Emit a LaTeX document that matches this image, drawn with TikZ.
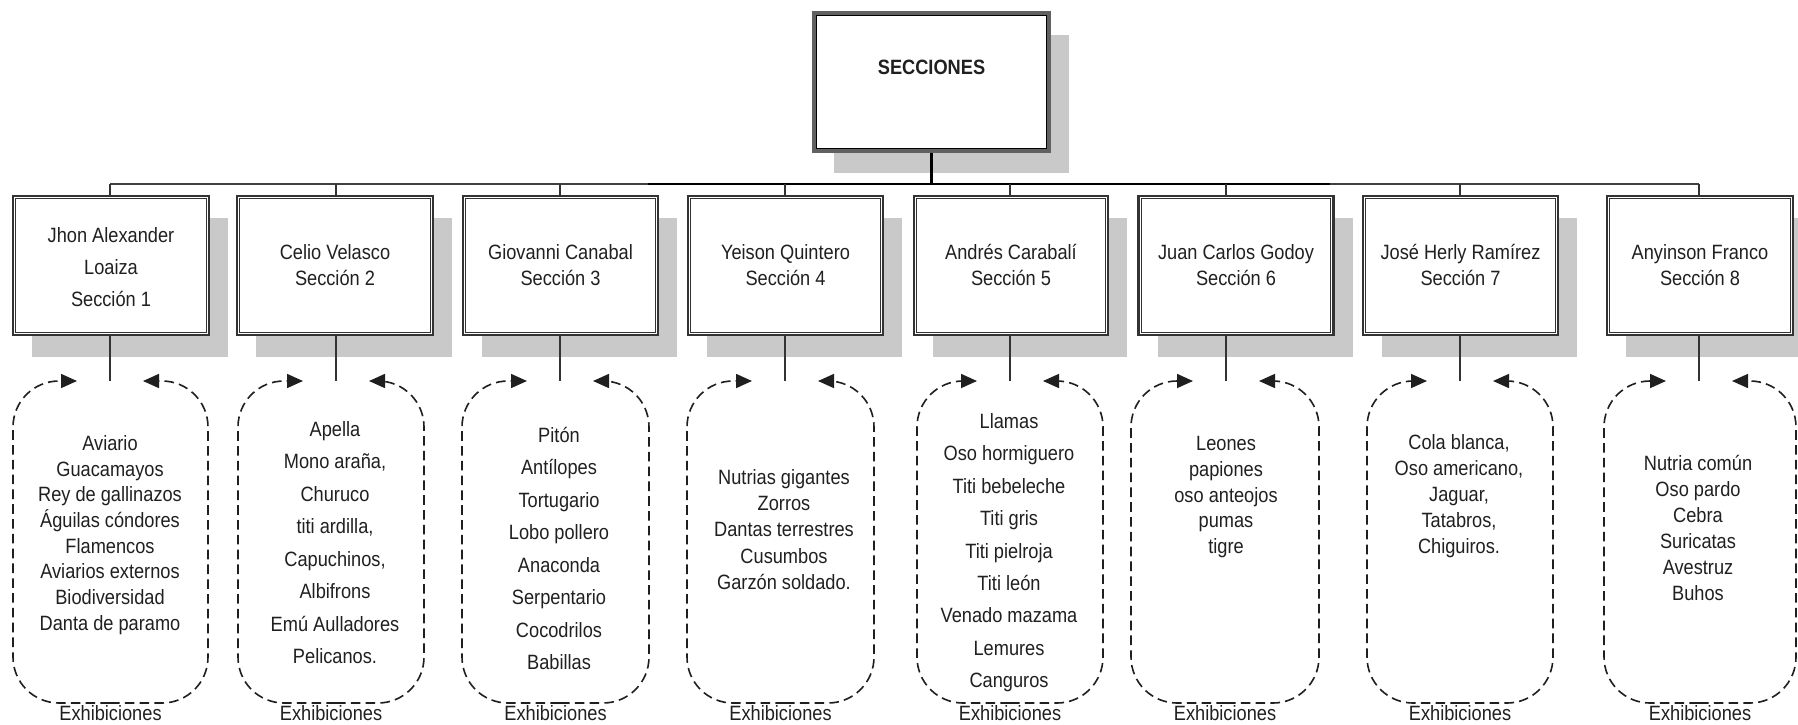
\documentclass[tikz,border=0pt]{standalone}
\usepackage{fontspec}
\setmainfont{Liberation Sans}[FakeStretch=0.88]
\usetikzlibrary{shadows,arrows.meta}
\definecolor{shgray}{HTML}{C9C9C9}
\definecolor{ink}{HTML}{202020}
\definecolor{edge}{HTML}{333333}
\begin{document}
\begin{tikzpicture}[x=0.5pt,y=-0.5pt,
  every node/.style={font=\fontsize{10.35pt}{12pt}\selectfont, text=ink},
  txt/.style={inner sep=0pt, text height=7.4pt, text depth=0pt},
  secbox/.style={draw=edge, line width=1.1pt, minimum height=69.5pt, fill=white, inner sep=0pt,
    drop shadow={shadow xshift=9.5pt, shadow yshift=-11pt, fill=shgray, opacity=1}},
  topbox/.style={draw=black!62, line width=2pt, minimum width=117.5pt, minimum height=69pt, fill=white, inner sep=0pt,
    drop shadow={shadow xshift=10pt, shadow yshift=-11pt, fill=shgray, opacity=1}},
  innerline/.style={draw=edge, line width=0.65pt},
  link/.style={draw=edge, line width=0.7pt},
  dashbox/.style={draw=black!88, line width=0.8pt, dash pattern=on 4.8pt off 2.6pt, rounded corners=23pt,
    -{Triangle[length=8pt,width=7pt]}}
]
\clip (0,0) rectangle (1798,724);
\fill[white] (0,0) rectangle (1798,724);

% top box
\node[topbox] (top) at (931.5,82) {};
\draw[draw=black, line width=0.6pt] ([shift={(4.5,4.5)}]top.north west) rectangle ([shift={(-4.5,-4.5)}]top.south east);
\node[txt, font=\fontsize{10.35pt}{12pt}\selectfont\bfseries] (toplbl) at (931.5,67) {SECCIONES};

% section boxes
\foreach \i/\bx/\bw in {1/111/98pt, 2/335/98pt, 3/560.5/97.5pt, 4/785.5/97.5pt, 5/1011/97pt, 6/1236/97.5pt, 7/1460.5/97.5pt, 8/1700/93pt}{
  \node[secbox, minimum width=\bw] (s\i) at (\bx,265.5) {};
  \draw[innerline] ([shift={(3.8,3.8)}]s\i.north west) rectangle ([shift={(-3.8,-3.8)}]s\i.south east);
}

% bus and branches
\coordinate (tb) at (931.5,184);
\coordinate (m1) at (648,184);
\coordinate (m2) at (1330,184);
\foreach \i/\lx in {1/110, 2/336, 3/560, 4/785, 5/1010, 6/1226, 7/1460, 8/1699}{
  \coordinate (b\i) at (\lx,184);
  \coordinate (a\i) at (\lx,381);
}
\draw[draw=black!75, line width=0.85pt] (b1) -- (b8);
\draw[draw=black, line width=1.4pt] (m1) -- (m2);
\draw[draw=black, line width=1.6pt] (top.south) -- (tb);
\foreach \i in {1,...,8}{
  \draw[link] (b\i) -- (b\i |- s\i.north);
  \draw[link] (a\i |- s\i.south) -- (a\i);
}

% section labels
\node[txt] (n1a) at (111,235) {Jhon Alexander};
\node[txt] (n1b) at (111,267) {Loaiza};
\node[txt] (n1c) at (111,299) {Sección 1};
\foreach \i/\bx/\who in {2/335/Celio Velasco, 3/560.5/Giovanni Canabal, 4/785.5/Yeison Quintero,
  5/1011/Andrés Carabalí, 6/1236/Juan Carlos Godoy, 7/1460.5/José Herly Ramírez, 8/1700/Anyinson Franco}{
  \node[txt] (n\i a) at (\bx,252) {\who};
  \node[txt] (n\i b) at (\bx,278) {Sección \i};
}

% exhibition loops
\foreach \i/\lx/\dl/\dr in {1/110/13/208, 2/336/238/424, 3/560/462/649, 4/785/687/874,
  5/1010/917/1103, 6/1226/1131/1319, 7/1460/1367/1553, 8/1699/1604/1796}{
  \draw[dashbox] (\lx,703) -- (\dl,703) -- (\dl,381) -- (\lx-33,381);
  \draw[dashbox] (\lx,703) -- (\dr,703) -- (\dr,381) -- (\lx+33,381);
  \node[txt] (e\i) at ({(\dl+\dr)/2},713) {Exhibiciones};
}

% exhibition contents
\foreach \t [count=\k] in {Aviario, Guacamayos, Rey de gallinazos, Águilas cóndores, Flamencos,
  Aviarios externos, Biodiversidad, Danta de paramo}
  \node[txt] (c1-\k) at (110,{443+(\k-1)*25.7}) {\t};
\foreach \t [count=\k] in {Apella, {Mono araña,}, Churuco, {titi ardilla,}, {Capuchinos,},
  Albifrons, Emú Aulladores, Pelicanos.}
  \node[txt] (c2-\k) at (335,{429+(\k-1)*32.5}) {\t};
\foreach \t [count=\k] in {Pitón, Antílopes, Tortugario, Lobo pollero, Anaconda, Serpentario,
  Cocodrilos, Babillas}
  \node[txt] (c3-\k) at (559,{435+(\k-1)*32.5}) {\t};
\foreach \t [count=\k] in {Nutrias gigantes, Zorros, Dantas terrestres, Cusumbos, Garzón soldado.}
  \node[txt] (c4-\k) at (784,{477+(\k-1)*26.2}) {\t};
\foreach \t [count=\k] in {Llamas, Oso hormiguero, Titi bebeleche, Titi gris, Titi pielroja,
  Titi león, Venado mazama, Lemures, Canguros}
  \node[txt] (c5-\k) at (1009,{421+(\k-1)*32.4}) {\t};
\foreach \t [count=\k] in {Leones, papiones, oso anteojos, pumas, tigre}
  \node[txt] (c6-\k) at (1226,{443+(\k-1)*25.8}) {\t};
\foreach \t [count=\k] in {{Cola blanca,}, {Oso americano,}, {Jaguar,}, {Tatabros,}, Chiguiros.}
  \node[txt] (c7-\k) at (1459,{442+(\k-1)*26}) {\t};
\foreach \t [count=\k] in {Nutria común, Oso pardo, Cebra, Suricatas, Avestruz, Buhos}
  \node[txt] (c8-\k) at (1698,{463+(\k-1)*26}) {\t};
\end{tikzpicture}
\end{document}
